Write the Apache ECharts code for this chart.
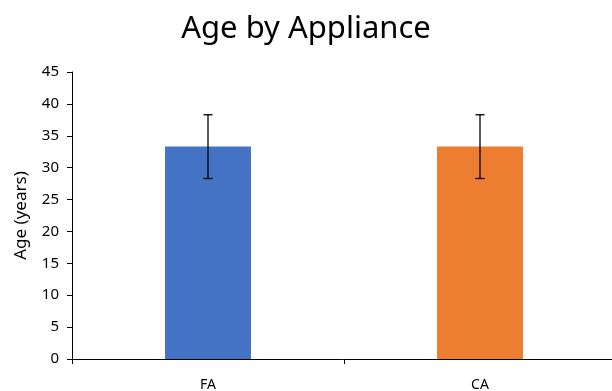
<!DOCTYPE html>
<html><head><meta charset="utf-8">
<script src="https://cdn.jsdelivr.net/npm/echarts@6/dist/echarts.min.js"></script>
<style>html,body{margin:0;padding:0;background:#fff}#c{width:612px;height:391px}</style>
</head><body><div id="c"></div>
<script>
var categories = ['FA', 'CA'];
var meanAge = [33.3, 33.3];
var sdAge = [5.0, 5.0];
var barColors = ['#4472C4', '#ED7D31'];
var yTicks = [0, 5, 10, 15, 20, 25, 30, 35, 40, 45];

var chart = echarts.init(document.getElementById('c'), null, {renderer: 'canvas'});
var font = 'Noto Sans, sans-serif';
chart.setOption({
  animation: false,
  title: {text: 'Age by Appliance', left: 'center', top: 9,
    textStyle: {fontFamily: font, fontSize: 31, fontWeight: 'normal', color: '#000'}},
  grid: {left: 72, width: 544, top: 72, height: 287, containLabel: false, outerBoundsMode: 'none'},
  xAxis: {type: 'category', data: categories,
    axisLine: {lineStyle: {color: '#000', width: 1}},
    axisTick: {show: true, length: 5, lineStyle: {color: '#000'}},
    axisLabel: {color: '#000', fontFamily: font, fontSize: 14, margin: 19}},
  yAxis: {type: 'value', min: yTicks[0], max: yTicks[yTicks.length - 1], interval: 5,
    name: 'Age (years)', nameLocation: 'middle', nameGap: 42, nameRotate: 90,
    nameTextStyle: {color: '#000', fontFamily: font, fontSize: 17},
    axisLine: {show: true, lineStyle: {color: '#000'}},
    axisTick: {show: true, length: 5, lineStyle: {color: '#000'}},
    splitLine: {show: false},
    axisLabel: {color: '#000', fontFamily: font, fontSize: 15, margin: 13}},
  series: [
    {type: 'bar', barWidth: '31.6%',
      data: meanAge.map(function (v, i) { return {value: v, itemStyle: {color: barColors[i]}}; })},
    {type: 'custom', z: 10,
      data: meanAge.map(function (v, i) { return [i, v - sdAge[i], v + sdAge[i]]; }),
      renderItem: function (params, api) {
        var lo = api.coord([api.value(0), api.value(1)]);
        var hi = api.coord([api.value(0), api.value(2)]);
        var hw = 4.5;
        var st = {stroke: '#000', lineWidth: 1.3};
        return {type: 'group', children: [
          {type: 'line', shape: {x1: lo[0], y1: lo[1], x2: hi[0], y2: hi[1]}, style: st},
          {type: 'line', shape: {x1: hi[0] - hw, y1: hi[1], x2: hi[0] + hw, y2: hi[1]}, style: st},
          {type: 'line', shape: {x1: lo[0] - hw, y1: lo[1], x2: lo[0] + hw, y2: lo[1]}, style: st}
        ]};
      }}
  ]
});
</script></body></html>
